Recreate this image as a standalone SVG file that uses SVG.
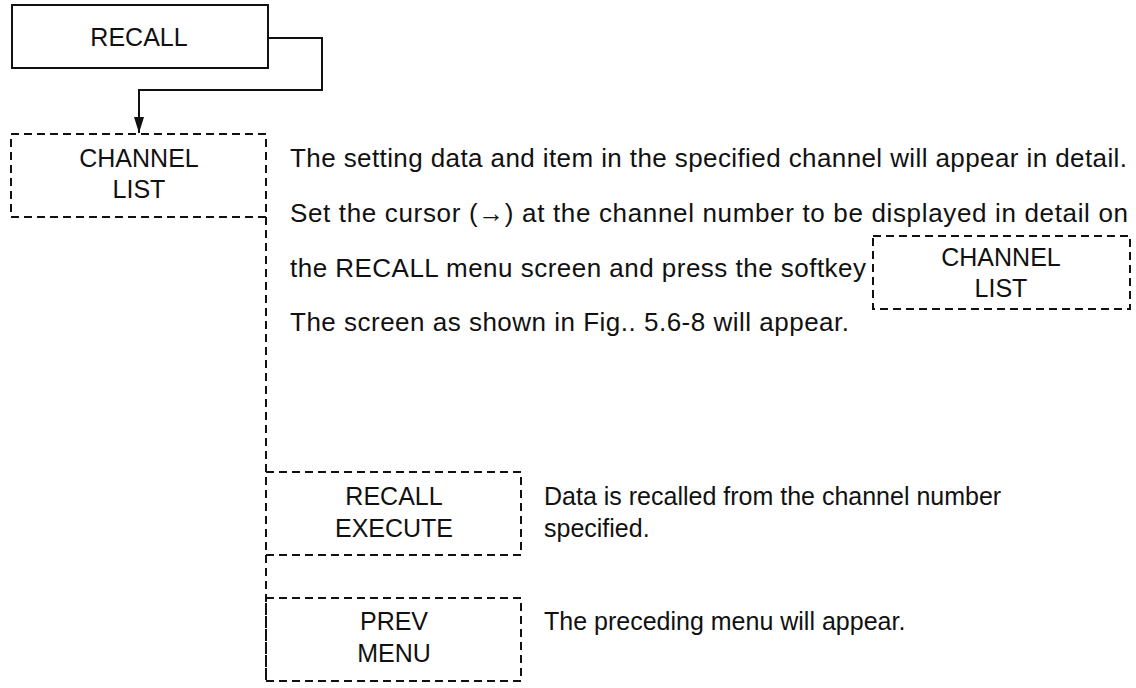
<svg xmlns="http://www.w3.org/2000/svg" width="1136" height="688" viewBox="0 0 1136 688">
<style>
text{font-family:"Liberation Sans",Arial,sans-serif;font-size:25px;fill:#111}
.body{font-size:26px}
.c{text-anchor:middle}
.solid{fill:none;stroke:#111;stroke-width:2}
.dash{fill:none;stroke:#111;stroke-width:2;stroke-dasharray:8 5}
</style>
<defs>
<marker id="arr" markerWidth="16" markerHeight="10" refX="16" refY="5" orient="auto" markerUnits="userSpaceOnUse" viewBox="0 0 16 10">
<path d="M0,0 L16,5 L0,10 Z" fill="#111"/>
</marker>
</defs>
<g id="connectors">
<path class="solid" d="M268,38 H322 V90 H139 V133" marker-end="url(#arr)"/>
<line class="dash" x1="266" y1="217" x2="266" y2="681"/>
</g>
<g id="recall">
<rect class="solid" x="12" y="5" width="256" height="63"/>
<text class="c" x="139" y="46">RECALL</text>
</g>
<g id="channel-list">
<rect class="dash" x="11" y="134" width="255" height="83"/>
<text class="c" x="139" y="167">CHANNEL</text>
<text class="c" x="139" y="198">LIST</text>
</g>
<g id="description">
<text class="body" x="290" y="167" textLength="837" lengthAdjust="spacing">The setting data and item in the specified channel will appear in detail.</text>
<text class="body" x="290" y="222" textLength="838" lengthAdjust="spacing">Set the cursor (→) at the channel number to be displayed in detail on</text>
<text class="body" x="290" y="277" textLength="576" lengthAdjust="spacing">the RECALL menu screen and press the softkey</text>
<text class="body" x="290" y="331" textLength="559" lengthAdjust="spacing">The screen as shown in Fig.. 5.6-8 will appear.</text>
</g>
<g id="softkey-channel-list">
<rect class="dash" x="873" y="236" width="257" height="73"/>
<text class="c" x="1001" y="266">CHANNEL</text>
<text class="c" x="1001" y="297">LIST</text>
</g>
<g id="recall-execute">
<rect class="dash" x="266" y="472" width="255" height="83"/>
<text class="c" x="394" y="505">RECALL</text>
<text class="c" x="394" y="537">EXECUTE</text>
<text x="544" y="505">Data is recalled from the channel number</text>
<text x="544" y="537">specified.</text>
</g>
<g id="prev-menu">
<rect class="dash" x="266" y="598" width="255" height="83"/>
<text class="c" x="394" y="630">PREV</text>
<text class="c" x="394" y="662">MENU</text>
<text x="544" y="630">The preceding menu will appear.</text>
</g>
</svg>
